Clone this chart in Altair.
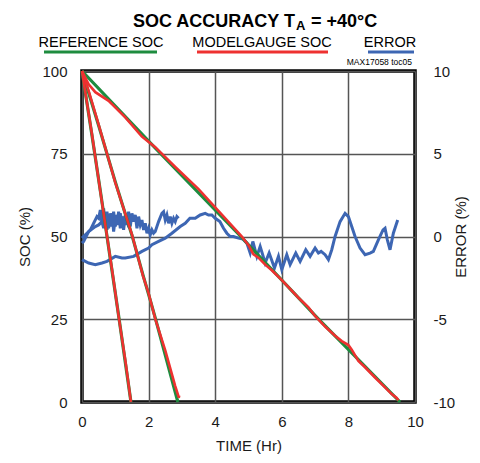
import altair as alt
import pandas as pd

# ---------------- data ----------------
# Reference SOC (green)
ref_fast_t = [0, 0.3, 0.57, 0.94, 1.11, 1.47]
ref_fast_soc = [100, 80.5, 62.5, 37, 25.4, 0]
ref_med_t = [0, 0.5, 1.0, 1.5, 1.83, 2.0, 2.2, 2.88]
ref_med_soc = [100, 83.5, 66.5, 50.4, 38.4, 32.5, 25.4, 0]
ref_slow_t = [0, 2.0, 4.74, 7.06, 9.55]
ref_slow_soc = [100, 78.8, 50.3, 25.5, 0]

# ModelGauge SOC (red)
mg_fast_t = [0, 0.1, 0.3, 0.57, 0.75, 0.94, 1.11, 1.3, 1.47]
mg_fast_soc = [100, 93.5, 80.8, 62.3, 50.2, 37.3, 25.2, 12.6, 0]
mg_med_t = [0, 0.2, 0.5, 1.0, 1.5, 1.83, 2.0, 2.2, 2.5, 2.8, 2.9, 2.95]
mg_med_soc = [100, 94, 83.8, 66.3, 50.6, 38.2, 32.8, 25.1, 15.6, 4.8, 1.6, 1.5]
mg_slow_t = [0, 0.2, 0.4, 0.8, 1.3, 1.8, 2.2, 2.8, 3.5, 4.0, 4.5, 4.8, 5.0, 5.15,
             5.3, 5.5, 5.7, 6.0, 6.5, 6.8, 7.0, 7.3, 7.6, 7.8, 8.0, 8.1, 8.3, 8.5,
             8.8, 9.1, 9.3, 9.45, 9.5]
mg_slow_soc = [100, 96, 93.6, 91, 86, 80.2, 77, 71, 64.3, 58.8, 53.3, 50, 47.4, 44.6,
               43.6, 41.5, 39.8, 36.8, 31.5, 28.6, 26, 22.8, 20, 18.4, 17.2, 15.8, 12.4, 10.5,
               7.4, 4.4, 2.4, 1.2, 0.5]

# Error (blue), three discharge runs
err_fast_t = [0, 0.05, 0.1, 0.15, 0.2, 0.25, 0.3, 0.35, 0.4, 0.45, 0.5, 0.55, 0.6, 0.65,
              0.7, 0.75, 0.8, 0.85, 0.9, 0.95, 1.0, 1.05, 1.1, 1.15, 1.2, 1.25, 1.3, 1.35,
              1.4, 1.45]
err_fast = [-0.4, -0.3, -0.1, 0.1, 0.3, 0.4, 0.6, 0.8, 1.0, 1.2, 1.1, 1.6, 0.8, 1.7,
            0.6, 1.5, 0.5, 1.4, 0.7, 1.5, 0.6, 1.3, 0.9, 1.4, 0.8, 1.2, 0.7, 1.1, 0.6, 0.5]
err_med_t = [0, 0.1, 0.2, 0.3, 0.4, 0.5, 0.6, 0.65, 0.7, 0.75, 0.8, 0.85, 0.9, 0.95, 1.0,
             1.05, 1.1, 1.15, 1.2, 1.25, 1.3, 1.35, 1.4, 1.45, 1.5, 1.55, 1.6, 1.65, 1.7,
             1.75, 1.8, 1.85, 1.9, 1.95, 2.0, 2.05, 2.1, 2.15, 2.2, 2.3, 2.4, 2.45, 2.5,
             2.55, 2.6, 2.65, 2.7, 2.75, 2.8, 2.85, 2.9]
err_med = [-0.1, 0.1, 0.3, 0.45, 0.6, 0.7, 0.9, 0.5, 1.3, 0.4, 1.2, 0.6, 1.4, 0.3, 1.1,
           0.7, 1.5, 0.5, 1.2, 0.4, 1.3, 0.8, 1.5, 0.6, 1.4, 0.9, 1.3, 0.5, 1.2, 0.7, 1.0,
           0.4, 0.8, 0.2, 0.5, 0.1, 0.4, 0.2, 0.3, 0.9, 1.4, 1.5, 1.0, 1.3, 0.8, 1.2, 0.8,
           1.1, 0.9, 1.2, 1.1]
err_slow_t = [0, 0.2, 0.4, 0.6, 0.75, 1.0, 1.2, 1.3, 1.55, 1.8, 2.0, 2.1, 2.3, 2.5, 2.7,
              2.95, 3.1, 3.24, 3.4, 3.55, 3.7, 3.8, 3.9, 4.0, 4.14, 4.25, 4.35, 4.45, 4.55,
              4.7, 4.83, 4.95, 5.05, 5.13, 5.25, 5.35, 5.5, 5.62, 5.78, 5.9, 6.0, 6.15,
              6.25, 6.42, 6.55, 6.72, 6.85, 7.0, 7.1, 7.18, 7.3, 7.4, 7.5, 7.6, 7.75, 7.9,
              8.0, 8.1, 8.2, 8.35, 8.5, 8.65, 8.75, 8.9, 9.04, 9.1, 9.17, 9.25, 9.35, 9.48]
err_slow = [-1.4, -1.6, -1.7, -1.6, -1.5, -1.2, -1.3, -1.3, -1.2, -0.9, -0.7, -0.5, -0.3,
            -0.1, 0.2, 0.6, 0.8, 1.1, 1.1, 1.3, 1.4, 1.3, 1.3, 1.1, 0.9, 0.5, 0.2, 0.0, 0.0,
            -0.1, -0.15, -0.4, -1.0, -0.3, -1.2, -0.6, -1.6, -1.0, -1.9, -1.2, -2.0, -1.1,
            -1.7, -1.0, -1.5, -0.8, -1.2, -0.7, -1.0, -0.9, -1.1, -1.4, -0.8, 0.0, 0.9, 1.4,
            1.2, 0.6, 0.0, -0.7, -1.1, -1.0, -0.9, -0.2, 0.4, 0.5, -0.2, -0.8, 0.2, 1.0]

x_ticks = [0, 2, 4, 6, 8, 10]
soc_ticks = [0, 25, 50, 75, 100]
err_ticks = [-10, -5, 0, 5, 10]

GREEN = "#1e8c3f"
RED = "#ee3130"
BLUE = "#3d66b3"
FONT = "Liberation Sans, Arial, sans-serif"


def frame(groups, vname):
    rows = []
    for name, ts, vs in groups:
        for a, b in zip(ts, vs):
            rows.append({"run": name, "t": a, vname: b})
    return pd.DataFrame(rows)


ref_df = frame([("fast", ref_fast_t, ref_fast_soc), ("med", ref_med_t, ref_med_soc),
                ("slow", ref_slow_t, ref_slow_soc)], "soc")
mg_df = frame([("fast", mg_fast_t, mg_fast_soc), ("med", mg_med_t, mg_med_soc),
               ("slow", mg_slow_t, mg_slow_soc)], "soc")
err_df = frame([("fast", err_fast_t, err_fast), ("med", err_med_t, err_med),
                ("slow", err_slow_t, err_slow)], "err")

W, H = 333, 331
LBL = "toString(datum.value)"

x_enc = alt.X("t:Q", scale=alt.Scale(domain=[0, 10], nice=False),
              axis=alt.Axis(values=x_ticks, title="TIME (Hr)", grid=True, labelFlush=False,
                            labelExpr=LBL, labelPadding=12, titlePadding=9))
y_soc = alt.Y("soc:Q", scale=alt.Scale(domain=[0, 100], nice=False),
              axis=alt.Axis(values=soc_ticks, title="SOC (%)", orient="left", grid=True,
                            labelFlush=False, labelExpr=LBL,
                            labelPadding=15, titlePadding=9))
y_err = alt.Y("err:Q", scale=alt.Scale(domain=[-10, 10], nice=False),
              axis=alt.Axis(values=err_ticks, title="ERROR (%)", orient="right", grid=False,
                            labelFlush=False, labelExpr=LBL,
                            labelPadding=18, titlePadding=14, titleAngle=270))

err_layer = alt.Chart(err_df).mark_line(color=BLUE, strokeWidth=3).encode(
    x=x_enc, y=y_err, detail="run:N")
ref_layer = alt.Chart(ref_df).mark_line(color=GREEN, strokeWidth=3.2).encode(
    x=x_enc, y=y_soc, detail="run:N")
mg_layer = alt.Chart(mg_df).mark_line(color=RED, strokeWidth=2.6).encode(
    x=x_enc, y=y_soc, detail="run:N")

soc_layers = alt.layer(ref_layer, mg_layer)

# ---- title & custom legend (pixel positions relative to plot area) ----
ann = pd.DataFrame({"k": [0]})


def txt(s, x, y, size, weight="normal", align="center", color="black"):
    return alt.Chart(ann).mark_text(text=s, align=align, baseline="alphabetic",
                                    font=FONT, fontSize=size, fontWeight=weight,
                                    color=color).encode(x=alt.value(x), y=alt.value(y))


def seg(x1, x2, y, color):
    return alt.Chart(ann).mark_rule(color=color, strokeWidth=3).encode(
        x=alt.value(x1), x2=alt.value(x2), y=alt.value(y))


decor = alt.layer(
    txt("SOC ACCURACY T", 213, -44, 18, "bold", "right"),
    txt("A", 214, -41, 13, "bold", "left"),
    txt("= +40°C", 229, -44, 18, "bold", "left"),
    txt("REFERENCE SOC", 19, -24, 14.5),
    txt("MODELGAUGE SOC", 180, -24, 14.5),
    txt("ERROR", 308, -24, 14.5),
    seg(-38, 75, -19, GREEN),
    seg(115, 246, -19, RED),
    seg(286, 332, -19, BLUE),
    txt("MAX17058 toc05", 330, -6, 8.5, "normal", "right"),
)

chart = alt.layer(err_layer, soc_layers, decor).resolve_scale(y="independent").properties(
    width=W, height=H,
    autosize=alt.AutoSizeParams(type="none"),
    padding={"left": 74, "top": 63, "right": 57, "bottom": 53},
).configure_view(
    stroke="black", strokeWidth=3.5
).configure_axis(
    domain=False, ticks=False, gridColor="#555555", gridWidth=1.5, gridOpacity=1,
    labelFont=FONT, labelFontSize=15, labelColor="#1a1a1a",
    titleFont=FONT, titleFontSize=15, titleFontWeight="normal", titleColor="#1a1a1a",
)

chart.save("out.html", embed_options={"renderer": "svg", "actions": False})
